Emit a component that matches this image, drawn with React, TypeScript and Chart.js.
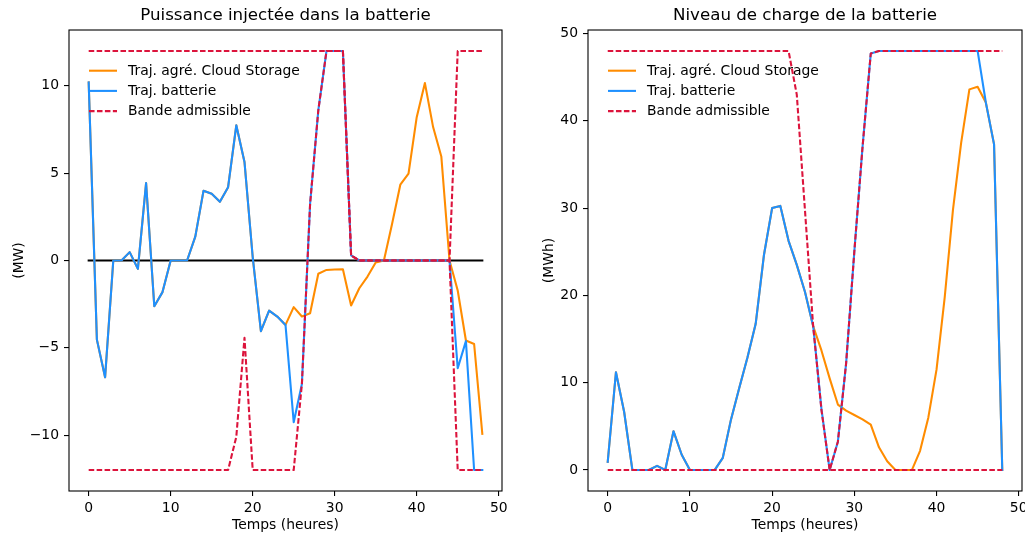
import React, { useEffect, useRef } from "react";
import { Chart, registerables } from "chart.js";

Chart.register(...registerables);

// ---------- data ----------
const hours = [0, 1, 2, 3, 4, 5, 6, 7, 8, 9, 10, 11, 12, 13, 14, 15, 16, 17, 18, 19, 20, 21, 22, 23, 24, 25, 26, 27, 28, 29, 30, 31, 32, 33, 34, 35, 36, 37, 38, 39, 40, 41, 42, 43, 44, 45, 46, 47, 48];

const powerCloud = [10.2, -4.53, -6.69, 0, 0, 0.48, -0.48, 4.43, -2.62, -1.81, 0, 0, 0, 1.37, 3.99, 3.82, 3.36, 4.2, 7.74, 5.64, 0.2, -4.05, -2.87, -3.21, -3.69, -2.67, -3.21, -3.02, -0.76, -0.54, -0.52, -0.5, -2.58, -1.59, -0.92, -0.12, 0, 2.1, 4.34, 4.97, 8.21, 10.16, 7.64, 5.96, 0, -1.72, -4.58, -4.78, -9.93];
const powerBattery = [10.2, -4.53, -6.69, 0, 0, 0.48, -0.48, 4.43, -2.62, -1.81, 0, 0, 0, 1.37, 3.99, 3.82, 3.36, 4.2, 7.74, 5.64, 0.2, -4.05, -2.87, -3.21, -3.69, -9.26, -7.07, 3.25, 8.6, 12, 12, 12, 0.29, 0, 0, 0, 0, 0, 0, 0, 0, 0, 0, 0, 0, -6.17, -4.62, -12, -12];
const powerUpper = [12, 12, 12, 12, 12, 12, 12, 12, 12, 12, 12, 12, 12, 12, 12, 12, 12, 12, 12, 12, 12, 12, 12, 12, 12, 12, 12, 12, 12, 12, 12, 12, 0.29, 0, 0, 0, 0, 0, 0, 0, 0, 0, 0, 0, 0, 12, 12, 12, 12];
const powerLower = [-12, -12, -12, -12, -12, -12, -12, -12, -12, -12, -12, -12, -12, -12, -12, -12, -12, -12, -10.1, -4.43, -12, -12, -12, -12, -12, -12, -7.07, 3.25, 8.6, 12, 12, 12, 0.29, 0, 0, 0, 0, 0, 0, 0, 0, 0, 0, 0, 0, -12, -12, -12, -12];
const powerZero = [0, 0, 0, 0, 0, 0, 0, 0, 0, 0, 0, 0, 0, 0, 0, 0, 0, 0, 0, 0, 0, 0, 0, 0, 0, 0, 0, 0, 0, 0, 0, 0, 0, 0, 0, 0, 0, 0, 0, 0, 0, 0, 0, 0, 0, 0, 0, 0, 0];

const socCloud = [0.95, 11.2, 6.65, 0, 0, 0, 0.48, 0, 4.45, 1.75, 0, 0, 0, 0, 1.4, 5.8, 9.4, 12.9, 16.75, 24.6, 30.0, 30.25, 26.25, 23.5, 20.4, 16.45, 13.7, 10.5, 7.5, 6.8, 6.3, 5.8, 5.2, 2.6, 1.0, 0, 0, 0, 2.2, 6.0, 11.5, 19.8, 29.8, 37.5, 43.6, 43.9, 42.1, 37.3, 0];
const socBattery = [0.95, 11.2, 6.65, 0, 0, 0, 0.48, 0, 4.45, 1.75, 0, 0, 0, 0, 1.4, 5.8, 9.4, 12.9, 16.75, 24.6, 30.0, 30.25, 26.25, 23.5, 20.4, 16.45, 7.0, 0, 3.25, 12.2, 25.0, 37.0, 47.7, 48, 48, 48, 48, 48, 48, 48, 48, 48, 48, 48, 48, 48, 42.1, 37.3, 0];
const socUpper = [48, 48, 48, 48, 48, 48, 48, 48, 48, 48, 48, 48, 48, 48, 48, 48, 48, 48, 48, 48, 48, 48, 48, 43, 29.7, 16.4, 6.9, 0, 3.25, 12.2, 25.0, 37.0, 47.7, 48, 48, 48, 48, 48, 48, 48, 48, 48, 48, 48, 48, 48, 48, 48, 48];
const socLower = [0, 0, 0, 0, 0, 0, 0, 0, 0, 0, 0, 0, 0, 0, 0, 0, 0, 0, 0, 0, 0, 0, 0, 0, 0, 0, 0, 0, 0, 0, 0, 0, 0, 0, 0, 0, 0, 0, 0, 0, 0, 0, 0, 0, 0, 0, 0, 0, 0];

const hourTicks = [0, 10, 20, 30, 40, 50];
const powerTicks = [-10, -5, 0, 5, 10];
const socTicks = [0, 10, 20, 30, 40, 50];

const legendLabels = ["Traj. agré. Cloud Storage", "Traj. batterie", "Bande admissible"];
const panelTitles = ["Puissance injectée dans la batterie", "Niveau de charge de la batterie"];
const xAxisTitle = "Temps (heures)";
const yAxisTitles = ["(MW)", "(MWh)"];

// ---------- styles ----------
const ORANGE = "#FF8C00";
const BLUE = "#1E90FF";
const CRIMSON = "#DC143C";
const FONT = "'DejaVu Sans', sans-serif";
const LW = 2.08;
const DASH = [5.55, 2.4];

const pts = (ys: number[]) => hours.map((h, i) => ({ x: h, y: ys[i] }));
const fmt = (v: number) => (v < 0 ? "\u2212" + String(Math.abs(v)) : String(v));

const framePlugin = {
  id: "mplFrame",
  afterDatasetsDraw(chart: any) {
    const { ctx, chartArea } = chart;
    const { left, top, right, bottom } = chartArea;
    ctx.save();
    ctx.strokeStyle = "#000";
    ctx.lineWidth = 1.1;
    ctx.setLineDash([]);
    ctx.strokeRect(left, top, right - left, bottom - top);
    ctx.restore();
  },
};

const legendPlugin = {
  id: "mplLegend",
  afterDatasetsDraw(chart: any, _args: any, opts: any) {
    const { ctx, chartArea } = chart;
    const items = opts.items || [];
    const x0 = chartArea.left + 20;
    ctx.save();
    items.forEach((it: any, i: number) => {
      const y = chartArea.top + 40.7 + i * 20.2;
      ctx.beginPath();
      ctx.setLineDash(it.dash);
      ctx.strokeStyle = it.color;
      ctx.lineWidth = LW;
      ctx.lineCap = "butt";
      ctx.moveTo(x0, y);
      ctx.lineTo(x0 + 28, y);
      ctx.stroke();
      ctx.setLineDash([]);
      ctx.fillStyle = "#000";
      ctx.font = `13.9px ${FONT}`;
      ctx.textBaseline = "middle";
      ctx.textAlign = "left";
      ctx.fillText(it.label, x0 + 39, y + 0.5);
    });
    ctx.restore();
  },
};

type Panel = {
  title: string;
  yTitle: string;
  yTitlePad: number;
  yWidth: number;
  padRight: number;
  yMin: number;
  yMax: number;
  yTicks: number[];
  datasets: any[];
};

function buildConfig(p: Panel): any {
  const tickFont = { family: FONT, size: 13.9 };
  return {
    type: "line",
    data: { datasets: p.datasets },
    options: {
      responsive: false,
      animation: false,
      devicePixelRatio: 1,
      layout: { padding: { left: 0, right: p.padRight, top: 0, bottom: 0 } },
      elements: { point: { radius: 0 }, line: { tension: 0 } },
      plugins: {
        legend: { display: false },
        tooltip: { enabled: false },
        title: {
          display: true,
          text: p.title,
          color: "#000",
          fullSize: false,
          font: { family: FONT, size: 16.67, weight: "normal", lineHeight: 1.2 },
          padding: { top: 6, bottom: 4 },
        },
        mplLegend: {
          items: [
            { label: legendLabels[0], color: ORANGE, dash: [] },
            { label: legendLabels[1], color: BLUE, dash: [] },
            { label: legendLabels[2], color: CRIMSON, dash: DASH },
          ],
        },
      },
      scales: {
        x: {
          type: "linear",
          min: -2.4,
          max: 50.4,
          afterBuildTicks: (s: any) => {
            s.ticks = hourTicks.map((v) => ({ value: v }));
          },
          afterFit: (s: any) => {
            s.height = 45;
            s.paddingLeft = 0;
            s.paddingRight = 0;
          },
          grid: { display: true, drawOnChartArea: false, drawTicks: true, tickLength: 5, color: "#000", lineWidth: 1.1 },
          border: { display: false },
          ticks: { color: "#000", font: tickFont, padding: 4, maxRotation: 0, autoSkip: false, callback: (v: any) => fmt(Number(v)) },
          title: {
            display: true,
            text: xAxisTitle,
            color: "#000",
            font: { family: FONT, size: 13.9, lineHeight: 1.2 },
            padding: { top: 0, bottom: 2.6 },
          },
        },
        y: {
          type: "linear",
          min: p.yMin,
          max: p.yMax,
          afterBuildTicks: (s: any) => {
            s.ticks = p.yTicks.map((v) => ({ value: v }));
          },
          afterFit: (s: any) => {
            s.width = p.yWidth;
            s.paddingTop = 0;
            s.paddingBottom = 0;
          },
          grid: { display: true, drawOnChartArea: false, drawTicks: true, tickLength: 5, color: "#000", lineWidth: 1.1 },
          border: { display: false },
          ticks: { color: "#000", font: tickFont, padding: 5, autoSkip: false, callback: (v: any) => fmt(Number(v)) },
          title: {
            display: true,
            text: p.yTitle,
            color: "#000",
            font: { family: FONT, size: 13.9, lineHeight: 1.2 },
            padding: { top: p.yTitlePad, bottom: 0 },
          },
        },
      },
    },
    plugins: [framePlugin, legendPlugin],
  };
}

const lineDs = (data: number[], color: string, order: number, dashed: boolean) => ({
  data: pts(data),
  borderColor: color,
  backgroundColor: color,
  borderWidth: LW,
  borderDash: dashed ? DASH : [],
  borderCapStyle: dashed ? "butt" : "square",
  borderJoinStyle: "round",
  pointRadius: 0,
  fill: false,
  order,
});

function ChartCanvas({ panel, left, width }: { panel: Panel; left: number; width: number }) {
  const ref = useRef<HTMLCanvasElement | null>(null);
  useEffect(() => {
    if (!ref.current) return;
    const chart = new Chart(ref.current, buildConfig(panel));
    return () => chart.destroy();
  }, []);
  return (
    <canvas
      ref={ref}
      width={width}
      height={536}
      style={{ position: "absolute", left, top: 0, width, height: 536, display: "block" }}
    />
  );
}

const powerPanel: Panel = {
  title: panelTitles[0],
  yTitle: yAxisTitles[0],
  yTitlePad: 10.7,
  yWidth: 69,
  padRight: 10,
  yMin: -13.2,
  yMax: 13.2,
  yTicks: powerTicks,
  datasets: [
    lineDs(powerZero, "#000", 5, false),
    lineDs(powerCloud, ORANGE, 3, false),
    lineDs(powerBattery, BLUE, 2, false),
    lineDs(powerUpper, CRIMSON, 1, true),
    lineDs(powerLower, CRIMSON, 1, true),
  ],
};

const socPanel: Panel = {
  title: panelTitles[1],
  yTitle: yAxisTitles[1],
  yTitlePad: 28.7,
  yWidth: 76,
  padRight: 3,
  yMin: -2.4,
  yMax: 50.4,
  yTicks: socTicks,
  datasets: [
    lineDs(socCloud, ORANGE, 3, false),
    lineDs(socBattery, BLUE, 2, false),
    lineDs(socUpper, CRIMSON, 1, true),
    lineDs(socLower, CRIMSON, 1, true),
  ],
};

export default function App() {
  return (
    <div style={{ position: "absolute", left: 0, top: 0, width: 1025, height: 536, background: "#fff", overflow: "hidden" }}>
      <ChartCanvas panel={powerPanel} left={0} width={512} />
      <ChartCanvas panel={socPanel} left={512} width={513} />
    </div>
  );
}
